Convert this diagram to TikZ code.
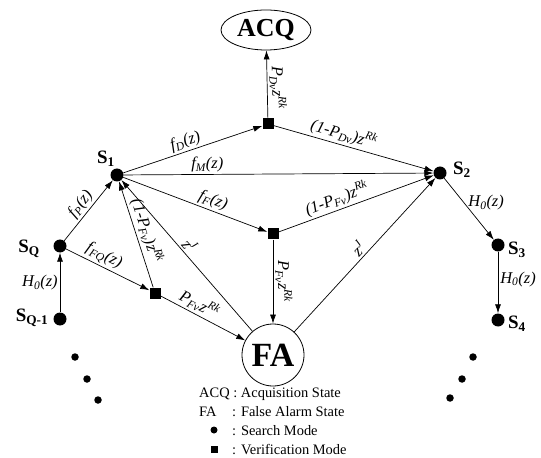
\documentclass[tikz,border=0pt]{standalone}
\usepackage{fontspec}
\setmainfont{Liberation Serif}
\usetikzlibrary{shapes.geometric,arrows.meta}
\begin{document}
\begin{tikzpicture}[x=1bp,y=-1bp,
  state/.style={circle,fill=black,inner sep=0pt,minimum size=13bp},
  vbox/.style={rectangle,fill=black,inner sep=0pt,minimum size=11bp},
  dotn/.style={circle,fill=black,inner sep=0pt,minimum size=7.5bp},
  edge/.style={-{Latex[length=9bp,width=6bp]},line width=0.7bp},
  lab/.style={font=\fontsize{16.5}{16.5}\selectfont\itshape, inner sep=2bp},
  slab/.style={font=\fontsize{19}{19}\selectfont\bfseries, inner sep=0pt},
  leg/.style={font=\fontsize{14.5}{15}\selectfont, anchor=base west, inner sep=0pt}]
\useasboundingbox (0,0) rectangle (541,458);

% main nodes
\node[draw,ellipse,line width=0.8bp,minimum width=90bp,minimum height=40bp,inner sep=0pt,
      font=\fontsize{26}{26}\selectfont\bfseries] (acq) at (266,30) {ACQ};
\node[draw,circle,line width=0.8bp,minimum size=62bp,inner sep=0pt,
      font=\fontsize{34}{34}\selectfont\bfseries] (fa) at (273,355) {FA};
\node[vbox] (v1) at (268,124) {};
\node[vbox] (v2) at (273,234) {};
\node[vbox] (v3) at (155,293) {};
\node[state] (s1) at (117,175) {};
\node[state] (s2) at (440,173) {};
\node[state] (s3) at (498,245) {};
\node[state] (s4) at (498,320) {};
\node[state] (sq) at (60,246) {};
\node[state] (sqm) at (60,319) {};

% state labels
\node[slab] (ls1) at (106,159) {S\textsubscript{1}};
\node[slab] (ls2) at (462,170) {S\textsubscript{2}};
\node[slab] (ls3) at (517,250) {S\textsubscript{3}};
\node[slab] (ls4) at (517,324) {S\textsubscript{4}};
\node[slab] (lsq) at (29,249) {S\textsubscript{Q}};
\node[slab] (lsqm) at (32,318) {S\textsubscript{Q-1}};

% dots
\node[dotn] (d1) at (75,357) {};
\node[dotn] (d2) at (87,379) {};
\node[dotn] (d3) at (98,400) {};
\node[dotn] (d4) at (473,357) {};
\node[dotn] (d5) at (462,379) {};
\node[dotn] (d6) at (450,398) {};

% edges
\draw[edge] (v1) -- node[lab,pos=0.45,sloped,above] {P\textsubscript{Dv}z\textsuperscript{Rk}} (acq);
\draw[edge] (s1) -- node[lab,pos=0.47,sloped,above] {f\textsubscript{D}(z)} (v1);
\draw[edge] (v1) -- node[lab,pos=0.42,sloped,above] {(1-P\textsubscript{Dv})z\textsuperscript{Rk}} (s2);
\draw[edge] (s1) -- node[lab,pos=0.27,above] {f\textsubscript{M}(z)} (s2);
\draw[edge] (s1) -- node[lab,pos=0.6,sloped,above] {f\textsubscript{F}(z)} (v2);
\draw[edge] (v2) -- node[lab,pos=0.4,sloped,above] {(1-P\textsubscript{Fv})z\textsuperscript{Rk}} (s2);
\draw[edge] (v2) -- node[lab,pos=0.5,sloped,above] {P\textsubscript{Fv}z\textsuperscript{Rk}} (fa);
\draw[edge] (fa) -- node[lab,pos=0.5,sloped,above] {z\textsuperscript{J}} (s2);
\draw[edge] (fa) -- node[lab,pos=0.53,sloped,above] {z\textsuperscript{J}} (s1);
\draw[edge] (v3) -- node[lab,pos=0.5,sloped,above] {(1-P\textsubscript{Fv})z\textsuperscript{Rk}} (s1);
\draw[edge] (v3) -- node[lab,pos=0.4,sloped,above] {P\textsubscript{Fv}z\textsuperscript{Rk}} (fa);
\draw[edge] (sq) -- node[lab,pos=0.5,sloped,above] {f\textsubscript{P}(z)} (s1);
\draw[edge] (sq) -- node[lab,pos=0.4,sloped,above] {f\textsubscript{FQ}(z)} (v3);
\draw[edge] (sqm) -- node[lab,pos=0.5,left] {H\textsubscript{0}(z)} (sq);
\draw[edge] (s2) -- node[lab,pos=0.4,right,xshift=2bp] {H\textsubscript{0}(z)} (s3);
\draw[edge] (s3) -- node[lab,pos=0.45,right] {H\textsubscript{0}(z)} (s4);

% legend
\node[leg] (l1) at (199,397) {ACQ : Acquisition State};
\node[leg] (l2a) at (199,416) {FA};
\node[leg] (l2) at (232,416) {: False Alarm State};
\node[circle,fill=black,inner sep=0pt,minimum size=7bp] (l3s) at (214,430) {};
\node[leg] (l3) at (232,435) {: Search Mode};
\node[rectangle,fill=black,inner sep=0pt,minimum size=7bp] (l4s) at (214,449) {};
\node[leg] (l4) at (232,454) {: Verification Mode};
\end{tikzpicture}
\end{document}
